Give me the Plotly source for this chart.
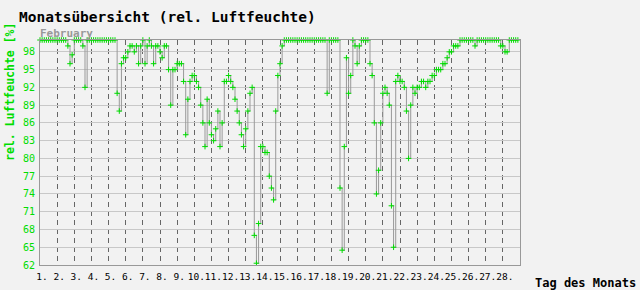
import plotly.graph_objects as go

samples_per_day = 8  # 3-hourly readings
day_labels = [f"{d}." for d in range(1, 29)]
y_ticks = list(range(62, 99, 3))

# relative humidity [%], 8 readings per day
week1 = [100, 100, 100, 100, 100, 100, 100, 100,
         100, 100, 100, 100, 100, 99, 96, 97.5,
         100, 100, 100, 100, 99, 92, 100, 100,
         100, 100, 100, 100, 100, 100, 100, 100,
         100, 100, 100, 100, 91, 88, 96, 97,
         97, 98, 99, 99, 98, 99, 96, 99,
         100, 96, 99, 100, 99, 96, 99, 99]
week2 = [98, 97, 99, 99, 95, 89, 95, 95,
         96, 96, 96, 93, 84, 90, 93, 94,
         94, 93, 92, 89, 86, 82, 90, 86,
         84, 83, 85, 88, 82, 86, 93, 93,
         94, 93, 92, 90, 88, 86, 84, 82,
         85, 88, 91, 92, 67, 62.3, 69, 82,
         82, 81, 81, 77, 75, 73, 88, 94]
week3 = [96, 99, 100, 100, 100, 100, 100, 100,
         100, 100, 100, 100, 100, 100, 100, 100,
         100, 100, 100, 100, 100, 100, 91, 100,
         100, 100, 100, 100, 75, 64.5, 82, 97,
         91, 94, 100, 99, 96, 99, 100, 100,
         100, 100, 96, 94, 86, 74, 78, 86,
         91, 92, 91, 89, 72, 65, 93, 94]
week4 = [93, 93, 92, 88, 80, 89, 92, 91,
         92, 92, 93, 93, 92, 93, 93, 94,
         94, 95, 95, 95, 96, 96, 97, 98,
         98, 99, 99, 99, 100, 100, 100, 100,
         100, 100, 100, 99, 100, 100, 100, 100,
         100, 100, 100, 100, 100, 100, 100, 99,
         99, 98, 98, 100, 100, 100, 100, 100]

values = week1 + week2 + week3 + week4
t = [i / samples_per_day for i in range(len(values))]

GREEN = "#00dd00"
MONO = "DejaVu Sans Mono"

fig = go.Figure(go.Scatter(
    x=t, y=values, mode="lines+markers",
    line=dict(color="#999999", width=1, shape="hv"),
    marker=dict(symbol="cross-thin", size=4, color=GREEN,
                line=dict(color=GREEN, width=1)),
    cliponaxis=False, hoverinfo="skip"))

fig.update_layout(
    width=640, height=290,
    margin=dict(l=40, r=120, t=40, b=25),
    paper_bgcolor="#f2f2f2", plot_bgcolor="#f2f2f2",
    showlegend=False,
    title=dict(text="Monatsübersicht (rel. Luftfeuchte)",
               x=19 / 640, xanchor="left", y=1 - 16.5 / 290, yanchor="middle",
               font=dict(family=MONO, size=14.5, color="black", weight="bold")),
    xaxis=dict(range=[0, 28], tickvals=list(range(28)), ticktext=day_labels,
               tickangle=0, automargin=False,
               showgrid=True, gridcolor="#666666", griddash="5px,4px", gridwidth=1,
               showline=True, linecolor="#999999", linewidth=1, mirror=True,
               ticks="outside", ticklen=3, tickcolor="rgba(0,0,0,0)",
               tickfont=dict(family=MONO, size=9.5, color="black"),
               ticklabelshift=2, zeroline=False),
    yaxis=dict(range=[62, 100], tickvals=y_ticks, automargin=False,
               showgrid=True, gridcolor="#c8c8c8", gridwidth=1,
               showline=True, linecolor="#999999", linewidth=1, mirror=True,
               ticks="outside", ticklen=2, tickcolor="rgba(0,0,0,0)",
               tickfont=dict(family=MONO, size=10, color=GREEN),
               zeroline=False),
    annotations=[
        dict(text="February", xref="paper", yref="paper", x=0, y=(265 - 33) / 225,
             xanchor="left", yanchor="middle", xshift=-2, showarrow=False,
             font=dict(family=MONO, size=11, color="#999999", weight="bold")),
        dict(text="rel. Luftfeuchte [%]", xref="paper", yref="paper",
             x=(10 - 40) / 480, y=(265 - 92) / 225, textangle=-90,
             xanchor="center", yanchor="middle", showarrow=False,
             font=dict(family=MONO, size=11.5, color=GREEN, weight="bold")),
        dict(text="Tag des Monats", xref="paper", yref="paper",
             x=(585 - 40) / 480, y=(265 - 283) / 225,
             xanchor="center", yanchor="middle", showarrow=False,
             font=dict(family=MONO, size=12, color="black", weight="bold")),
    ],
)

fig.write_html("out.html")
